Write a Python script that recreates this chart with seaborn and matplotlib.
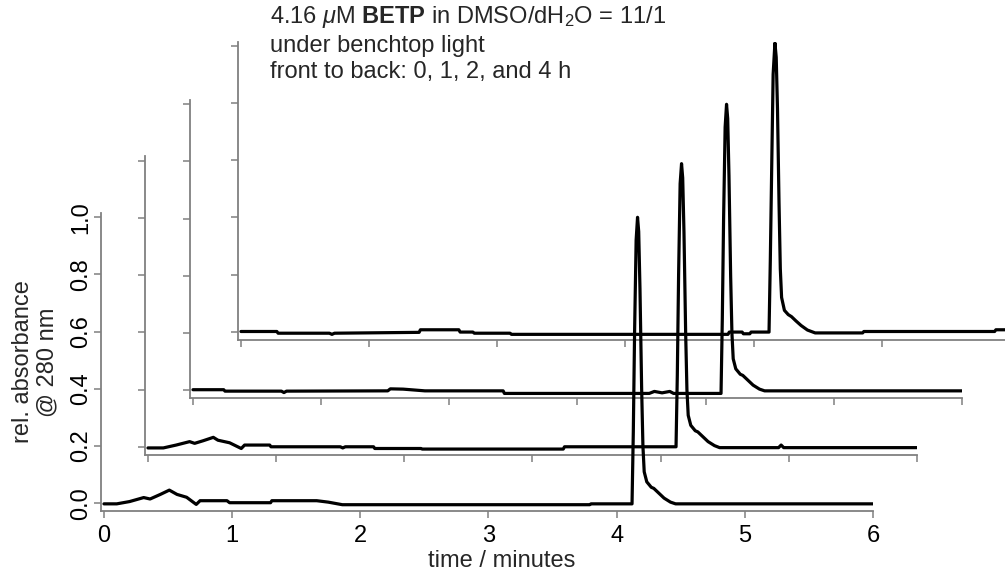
import numpy as np
import matplotlib as mpl
mpl.use('Agg')

import matplotlib.pyplot as plt
import seaborn as sns

# global params
W, H = 1005, 575
font_size = 17
trace_lw = 2.3
spine_color = '#808080'

# front axes box in pixels (left, top, width, height) and the shift of each trace
ax_box = (101, 213, 772, 298)
shifts = [(0, 0), (44, 56.5), (89, 113), (137, 171.5)]

x_ticks = [0, 1, 2, 3, 4, 5, 6]
y_ticks = [0.0, 0.2, 0.4, 0.6, 0.8, 1.0]
y_tick_labels = ['0.0', '0.2', '0.4', '0.6', '0.8', '1.0']

# 0 h (front)
t_0h = [0.0, 0.10, 0.20, 0.31, 0.36, 0.44, 0.51, 0.57, 0.645, 0.72, 0.75, 0.96, 0.98,
        1.30, 1.31, 1.66, 1.75, 1.86, 3.79, 3.80, 4.12, 4.13, 4.14, 4.152, 4.163,
        4.172, 4.182, 4.195, 4.205, 4.215, 4.235, 4.27, 4.29, 4.33, 4.37, 4.42, 4.46, 6.0]
a_0h = [-0.002, -0.002, 0.006, 0.020, 0.015, 0.031, 0.046, 0.031, 0.021, -0.004, 0.009, 0.009, 0.002,
        0.002, 0.009, 0.009, 0.004, -0.005, -0.005, -0.002, -0.002, 0.25, 0.60, 0.92, 1.0,
        0.95, 0.75, 0.40, 0.20, 0.11, 0.075, 0.056, 0.052, 0.035, 0.018, 0.004, -0.002, -0.002]

# 1 h
t_1h = [0.0, 0.12, 0.22, 0.325, 0.364, 0.43, 0.51, 0.546, 0.637, 0.728, 0.754, 0.95, 0.96,
        1.50, 1.52, 1.54, 1.76, 1.77, 2.13, 2.14, 3.24, 3.25, 4.12, 4.13, 4.14, 4.152, 4.163,
        4.172, 4.182, 4.195, 4.205, 4.215, 4.235, 4.27, 4.29, 4.33, 4.37, 4.42, 4.46,
        4.92, 4.94, 4.96, 6.0]
a_1h = [-0.004, -0.004, 0.006, 0.018, 0.012, 0.021, 0.033, 0.023, 0.014, -0.006, 0.006, 0.006, 0.0,
        0.0, -0.004, 0.0, 0.0, -0.006, -0.006, -0.008, -0.008, 0.0, 0.0, 0.25, 0.60, 0.92, 0.99,
        0.94, 0.75, 0.40, 0.20, 0.11, 0.075, 0.056, 0.052, 0.035, 0.018, 0.004, -0.003,
        -0.003, 0.006, -0.003, -0.003]

# 2 h
t_2h = [0.0, 0.24, 0.25, 0.69, 0.71, 0.73, 1.52, 1.54, 1.64, 1.81, 2.42, 2.43,
        3.56, 3.60, 3.66, 3.72, 3.75, 4.12, 4.13, 4.14, 4.152, 4.163,
        4.172, 4.182, 4.195, 4.205, 4.215, 4.235, 4.27, 4.29, 4.33, 4.37, 4.42, 4.46, 6.0]
a_2h = [0.002, 0.002, -0.003, -0.003, -0.008, -0.003, -0.002, 0.005, 0.004, -0.002, -0.002, -0.011,
        -0.011, -0.004, -0.009, -0.004, -0.011, -0.011, 0.25, 0.60, 0.92, 1.0,
        0.95, 0.75, 0.40, 0.20, 0.11, 0.075, 0.056, 0.052, 0.035, 0.018, 0.004, -0.002, -0.002]

# 4 h (back)
t_4h = [0.0, 0.28, 0.29, 0.69, 0.71, 0.73, 1.39, 1.40, 1.70, 1.71, 1.81, 1.82, 2.10, 2.11,
        3.80, 3.81, 3.91, 3.92, 3.97, 3.98, 4.12, 4.13, 4.14, 4.152, 4.166,
        4.176, 4.186, 4.198, 4.208, 4.218, 4.24, 4.27, 4.295, 4.33, 4.37, 4.42, 4.48,
        4.85, 4.86, 5.88, 5.89, 6.0]
a_4h = [0.001, 0.001, -0.005, -0.005, -0.009, -0.005, -0.002, 0.007, 0.007, -0.001, -0.001, -0.005, -0.005, -0.009,
        -0.009, -0.001, -0.001, -0.007, -0.007, -0.001, -0.001, 0.25, 0.55, 0.90, 1.01,
        0.96, 0.78, 0.45, 0.22, 0.12, 0.075, 0.06, 0.053, 0.038, 0.022, 0.006, -0.004,
        -0.004, 0.001, 0.001, 0.007, 0.007]

traces = [(t_0h, a_0h), (t_1h, a_1h), (t_2h, a_2h), (t_4h, a_4h)]

# annotation lines
note_lines = [r'4.16 $\mu$M $\mathbf{BETP}$ in DMSO/dH$_2$O = 11/1',
              'under benchtop light',
              'front to back: 0, 1, 2, and 4 h']
note_baselines = [23, 52, 78]
note_x = 270


def make_axes(fig, dx, dy):
    left, top, w, h = ax_box
    rect = [(left + dx) / W, (H - (top + h) + dy) / H, w / W, h / H]
    ax = fig.add_axes(rect)
    ax.set_facecolor('none')
    ax.set_xlim(-0.023, 6.0)
    ax.set_ylim(-0.027, 1.015)
    for side in ['top', 'right']:
        ax.spines[side].set_visible(False)
    for side in ['left', 'bottom']:
        ax.spines[side].set_color(spine_color)
        ax.spines[side].set_linewidth(1.3)
    ax.set_xticks(x_ticks)
    ax.set_yticks(y_ticks)
    ax.tick_params(direction='out', length=5.2, width=1.1, color=spine_color,
                   labelsize=font_size, labelcolor='black')
    ax.grid(False)
    return ax


def main():
    sns.set_style("ticks")
    plt.rcParams['font.family'] = ['Liberation Sans', 'DejaVu Sans']
    plt.rcParams['mathtext.fontset'] = 'custom'
    plt.rcParams['mathtext.rm'] = 'Liberation Sans'
    plt.rcParams['mathtext.it'] = 'Liberation Sans:italic'
    plt.rcParams['mathtext.bf'] = 'Liberation Sans:bold'

    fig = plt.figure(figsize=(W / 100, H / 100), dpi=100)

    # back to front so the front trace is drawn last
    for i in [3, 2, 1, 0]:
        dx, dy = shifts[i]
        ax = make_axes(fig, dx, dy)
        t, a = traces[i]
        sns.lineplot(x=t, y=a, ax=ax, color='black', linewidth=trace_lw,
                     estimator=None, sort=False)
        if i == 0:
            ax.set_yticklabels(y_tick_labels)
            for lbl in ax.get_yticklabels():
                lbl.set_rotation(90)
                lbl.set_va('center')
            ax.tick_params(axis='y', pad=1)
            ax.tick_params(axis='x', pad=5)
            ax.set_xlabel('time / minutes', fontsize=font_size)
            ax.xaxis.set_label_coords(0.519, -0.13)
            ax.set_ylabel('rel. absorbance\n@ 280 nm', fontsize=font_size, linespacing=1.15)
            ax.yaxis.set_label_coords(-0.055, 0.5)
        else:
            ax.tick_params(labelbottom=False, labelleft=False)
            ax.set_xlabel('')
            ax.set_ylabel('')

    for line, yb in zip(note_lines, note_baselines):
        fig.text(note_x / W, 1 - yb / H, line, fontsize=font_size, va='baseline', ha='left')

    plt.savefig('out.png', format='png', dpi=100)
    plt.close()


if __name__ == "__main__":
    main()
